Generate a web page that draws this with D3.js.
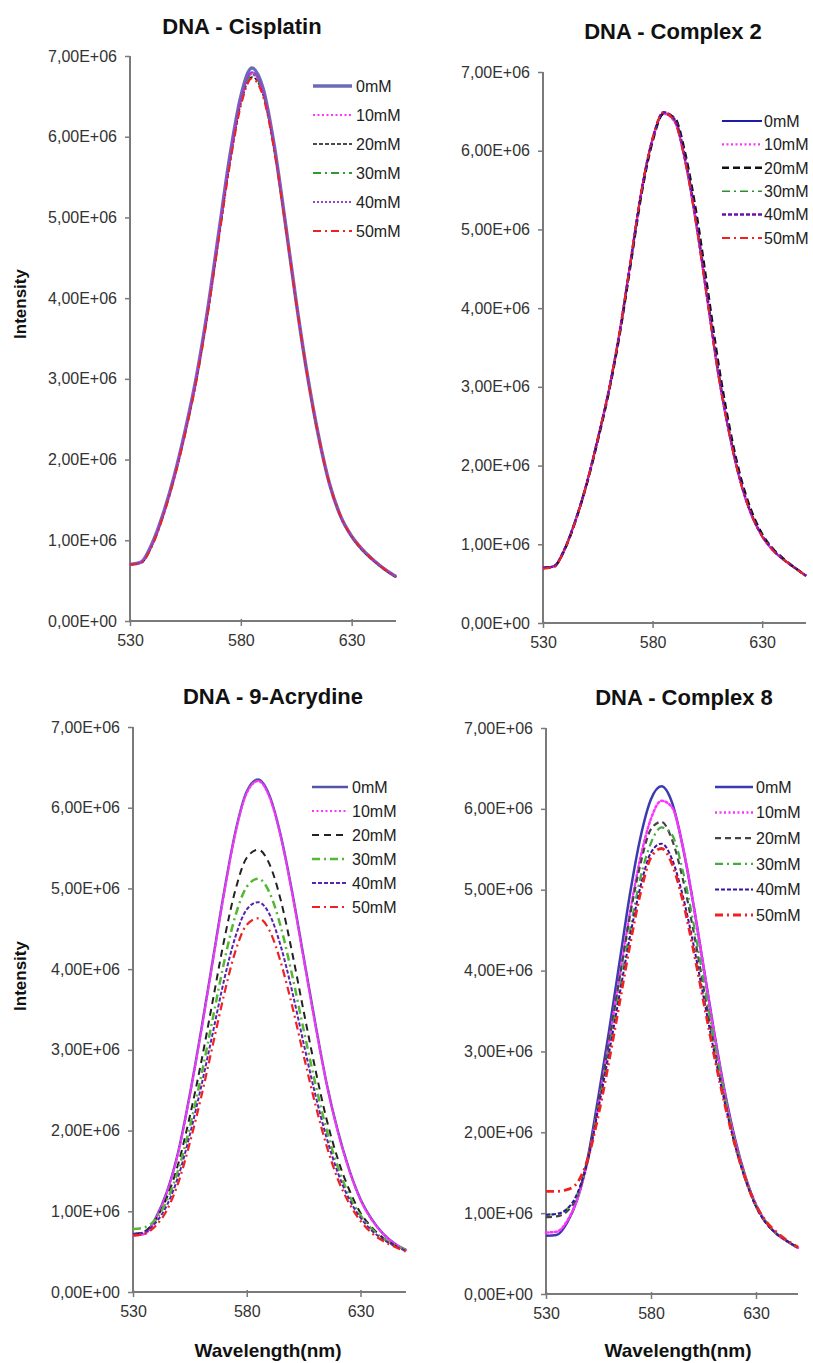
<!DOCTYPE html>
<html><head><meta charset="utf-8">
<script src="https://cdn.jsdelivr.net/npm/d3@7/dist/d3.min.js"></script>
<style>body{margin:0;background:#fff}svg{display:block}text{font-family:"Liberation Sans",Arial,sans-serif}</style>
</head><body><svg id="c" width="813" height="1363"></svg>
<script>
// ---- data (intensity in units of 1E+06) ----
const wavelengths = [530,535,540,545,550,555,560,565,570,575,580,585,590,595,600,605,610,615,620,625,630,635,640,645,650];
const seriesNames = ["0mM","10mM","20mM","30mM","40mM","50mM"];
const xTicks = [530,580,630];
const yTicks = [0,1,2,3,4,5,6,7];
const yTickLabels = ["0,00E+00","1,00E+06","2,00E+06","3,00E+06","4,00E+06","5,00E+06","6,00E+06","7,00E+06"];
const panelTitles = ["DNA - Cisplatin","DNA - Complex 2","DNA - 9-Acrydine","DNA - Complex 8"];

const cisplatin = [
 [0.70,0.73,0.96,1.33,1.80,2.37,3.03,3.85,4.80,5.75,6.50,6.85,6.60,5.90,4.95,3.95,3.05,2.30,1.70,1.30,1.05,0.88,0.75,0.64,0.55],
 [0.70,0.73,0.95,1.32,1.79,2.36,3.02,3.83,4.77,5.70,6.44,6.78,6.55,5.87,4.93,3.94,3.04,2.29,1.70,1.30,1.05,0.88,0.75,0.64,0.55],
 [0.70,0.72,0.94,1.31,1.78,2.34,2.99,3.80,4.73,5.66,6.40,6.74,6.52,5.85,4.92,3.93,3.03,2.29,1.69,1.29,1.04,0.87,0.74,0.63,0.54],
 [0.70,0.73,0.95,1.32,1.79,2.35,3.01,3.82,4.76,5.69,6.43,6.77,6.54,5.86,4.93,3.94,3.04,2.29,1.70,1.30,1.05,0.88,0.75,0.64,0.55],
 [0.70,0.73,0.95,1.32,1.80,2.36,3.02,3.84,4.78,5.72,6.46,6.80,6.57,5.88,4.94,3.95,3.05,2.30,1.70,1.30,1.05,0.88,0.75,0.64,0.55],
 [0.70,0.72,0.93,1.30,1.77,2.33,2.98,3.79,4.72,5.64,6.38,6.72,6.50,5.84,4.92,3.94,3.04,2.29,1.70,1.30,1.05,0.88,0.75,0.64,0.55]
];
const complex2 = [
 [0.70,0.72,0.95,1.32,1.78,2.34,2.95,3.70,4.60,5.50,6.15,6.48,6.38,5.85,5.05,4.10,3.15,2.40,1.80,1.38,1.10,0.92,0.80,0.70,0.60],
 [0.70,0.72,0.94,1.31,1.77,2.33,2.94,3.69,4.59,5.49,6.14,6.47,6.37,5.85,5.05,4.10,3.16,2.40,1.80,1.38,1.10,0.92,0.80,0.70,0.60],
 [0.70,0.72,0.94,1.31,1.77,2.32,2.93,3.67,4.56,5.46,6.12,6.47,6.42,5.95,5.20,4.26,3.30,2.50,1.87,1.43,1.13,0.94,0.81,0.70,0.60],
 [0.70,0.72,0.95,1.32,1.78,2.34,2.95,3.70,4.60,5.50,6.15,6.48,6.38,5.86,5.06,4.11,3.16,2.40,1.80,1.38,1.10,0.92,0.80,0.70,0.60],
 [0.70,0.72,0.95,1.32,1.78,2.34,2.95,3.70,4.60,5.50,6.15,6.49,6.40,5.89,5.10,4.15,3.20,2.43,1.82,1.39,1.11,0.93,0.80,0.70,0.60],
 [0.69,0.71,0.94,1.31,1.78,2.34,2.96,3.71,4.61,5.51,6.16,6.49,6.37,5.84,5.04,4.09,3.15,2.40,1.80,1.38,1.10,0.92,0.80,0.70,0.59]
];
const acrydine = [
 [0.70,0.72,0.92,1.25,1.75,2.45,3.25,4.10,4.95,5.70,6.20,6.35,6.15,5.65,4.95,4.15,3.35,2.60,2.00,1.52,1.15,0.90,0.72,0.60,0.52],
 [0.70,0.72,0.91,1.24,1.74,2.44,3.23,4.08,4.93,5.68,6.18,6.33,6.13,5.63,4.93,4.13,3.33,2.59,1.99,1.51,1.14,0.89,0.72,0.60,0.52],
 [0.72,0.75,0.90,1.18,1.60,2.18,2.85,3.60,4.35,4.98,5.38,5.48,5.30,4.85,4.20,3.48,2.78,2.15,1.65,1.27,0.98,0.80,0.67,0.58,0.52],
 [0.78,0.80,0.90,1.14,1.52,2.05,2.68,3.38,4.08,4.66,5.02,5.12,4.95,4.52,3.92,3.25,2.60,2.02,1.55,1.20,0.95,0.78,0.66,0.58,0.52],
 [0.72,0.74,0.86,1.08,1.44,1.95,2.55,3.20,3.86,4.40,4.74,4.83,4.68,4.28,3.72,3.08,2.46,1.92,1.48,1.15,0.92,0.76,0.65,0.57,0.51],
 [0.70,0.72,0.82,1.02,1.36,1.85,2.42,3.05,3.68,4.22,4.55,4.63,4.48,4.08,3.54,2.93,2.34,1.82,1.40,1.10,0.88,0.73,0.63,0.56,0.50]
];
const complex8 = [
 [0.72,0.73,0.88,1.18,1.70,2.45,3.25,4.10,4.95,5.65,6.12,6.28,6.08,5.55,4.85,4.05,3.25,2.52,1.92,1.45,1.10,0.88,0.74,0.65,0.57],
 [0.76,0.77,0.90,1.18,1.66,2.36,3.12,3.92,4.72,5.40,5.88,6.10,6.02,5.55,4.85,4.05,3.24,2.50,1.90,1.44,1.10,0.88,0.74,0.65,0.57],
 [0.95,0.96,1.02,1.22,1.68,2.38,3.12,3.90,4.68,5.32,5.75,5.84,5.62,5.15,4.52,3.80,3.08,2.42,1.85,1.42,1.08,0.87,0.74,0.65,0.57],
 [0.98,0.99,1.05,1.24,1.66,2.32,3.02,3.76,4.50,5.15,5.58,5.77,5.68,5.25,4.62,3.88,3.14,2.46,1.88,1.43,1.09,0.88,0.74,0.65,0.57],
 [0.98,0.99,1.05,1.25,1.66,2.30,2.98,3.70,4.42,5.04,5.46,5.57,5.38,4.94,4.35,3.68,3.00,2.38,1.84,1.41,1.08,0.87,0.74,0.65,0.58],
 [1.27,1.27,1.29,1.38,1.68,2.22,2.88,3.60,4.32,4.96,5.40,5.51,5.32,4.88,4.28,3.62,2.96,2.36,1.84,1.42,1.10,0.89,0.76,0.66,0.58]
];
const panelData = [cisplatin, complex2, acrydine, complex8];

// ---- layout & styles ----
const layout = [
 {x0:130,x1:396,y0:621,y7:56, title:[242,34], legend:{l1:313,l2:352,tx:356,y:86,step:29}, ylabel:[20,304], xtitle:null},
 {x0:543,x1:806,y0:623,y7:72, title:[673,39], legend:{l1:722,l2:762,tx:764,y:121,step:23.4}, ylabel:null, xtitle:null},
 {x0:133,x1:406,y0:1292,y7:727, title:[273,704], legend:{l1:312,l2:348,tx:352,y:787,step:24}, ylabel:[20,976], xtitle:[268,1357]},
 {x0:546,x1:798,y0:1294,y7:728, title:[684,705], legend:{l1:715,l2:753,tx:756,y:787,step:25.6}, ylabel:null, xtitle:[678,1357]}
];
const styles = [
 [ {c:"#6a6ab8",w:3.5,d:null},{c:"#ff33ff",w:2.2,d:"2,2.5"},{c:"#111",w:1.3,d:"4,2"},{c:"#2f9a2f",w:2,d:"8,4,2,4"},{c:"#9a40d0",w:2,d:"2,2"},{c:"#ee2222",w:2,d:"8,4,2,4"} ],
 [ {c:"#1c1ca8",w:2,d:null},{c:"#ff33ff",w:2.2,d:"2,2.5"},{c:"#111",w:2.5,d:"7,4"},{c:"#2f8f2f",w:1.5,d:"8,4,2,4"},{c:"#6a10b0",w:2.5,d:"4,2"},{c:"#ee2222",w:2,d:"8,4,2,4"} ],
 [ {c:"#5353a8",w:2.5,d:null},{c:"#ff33ff",w:2.2,d:"2,2.5"},{c:"#222",w:2,d:"7,5"},{c:"#55b833",w:2.5,d:"8,4,2,4"},{c:"#5a22b0",w:2,d:"4,2"},{c:"#ee2222",w:2.2,d:"8,4,2,4"} ],
 [ {c:"#3b3bb0",w:2.5,d:null},{c:"#ff33ff",w:2.5,d:"2,2.5"},{c:"#444",w:2.2,d:"6,4"},{c:"#44aa44",w:2.2,d:"8,4,2,4"},{c:"#3a10a8",w:2,d:"4,2"},{c:"#ee2222",w:2.8,d:"8,4,2,4"} ]
];

const svg = d3.select("#c");
svg.append("rect").attr("width",813).attr("height",1363).attr("fill","#fff");

layout.forEach((L,pi)=>{
  const x = d3.scaleLinear().domain([530,650]).range([L.x0,L.x1]);
  const y = d3.scaleLinear().domain([0,7]).range([L.y0,L.y7]);
  const g = svg.append("g");

  const ya = g.append("g").attr("transform",`translate(${L.x0},0)`)
    .call(d3.axisLeft(y).tickValues(yTicks).tickSize(5).tickPadding(8).tickFormat((d,i)=>yTickLabels[i]));
  const xa = g.append("g").attr("transform",`translate(0,${L.y0})`)
    .call(d3.axisBottom(x).tickValues(xTicks).tickSize(5).tickPadding(9).tickFormat(d3.format("d")));
  [ya,xa].forEach(a=>{
    a.select(".domain").attr("stroke","#7a7a7a").attr("stroke-width",2);
    a.selectAll(".tick line").attr("stroke","#7a7a7a").attr("stroke-width",1.5);
    a.selectAll("text").attr("fill","#333").style("font-size","16px");
  });
  xa.select(".domain").attr("d",`M${L.x0},0H${L.x1}`);
  ya.select(".domain").attr("d",`M0,${L.y0}V${L.y7}`);
  xa.selectAll(".tick line").attr("y1",-2);

  const line = d3.line().x((d,i)=>x(wavelengths[i])).y(d=>y(d)).curve(d3.curveMonotoneX);
  panelData[pi].forEach((s,si)=>{
    const st = styles[pi][si];
    g.append("path").attr("d",line(s)).attr("fill","none")
      .attr("stroke",st.c).attr("stroke-width",st.w)
      .attr("stroke-dasharray",st.d).attr("stroke-linecap", st.d && st.d.startsWith("2,")?"round":"butt");
  });

  seriesNames.forEach((n,si)=>{
    const st = styles[pi][si];
    const yy = L.legend.y + si*L.legend.step;
    g.append("line").attr("x1",L.legend.l1).attr("x2",L.legend.l2).attr("y1",yy).attr("y2",yy)
      .attr("stroke",st.c).attr("stroke-width",st.w).attr("stroke-dasharray",st.d);
    g.append("text").attr("x",L.legend.tx).attr("y",yy).attr("dy","0.36em")
      .attr("fill","#222").style("font-size","16px").text(n);
  });

  g.append("text").attr("x",L.title[0]).attr("y",L.title[1]).attr("text-anchor","middle")
    .attr("fill","#111").style("font-size","22px").style("font-weight","bold").text(panelTitles[pi]);
  if(L.ylabel){
    g.append("text").attr("transform",`translate(${L.ylabel[0]+6},${L.ylabel[1]}) rotate(-90)`)
      .attr("text-anchor","middle").attr("fill","#111").style("font-size","17px").style("font-weight","bold").text("Intensity");
  }
  if(L.xtitle){
    g.append("text").attr("x",L.xtitle[0]).attr("y",L.xtitle[1]).attr("text-anchor","middle")
      .attr("fill","#111").style("font-size","19px").style("font-weight","bold").text("Wavelength(nm)");
  }
});
</script></body></html>
